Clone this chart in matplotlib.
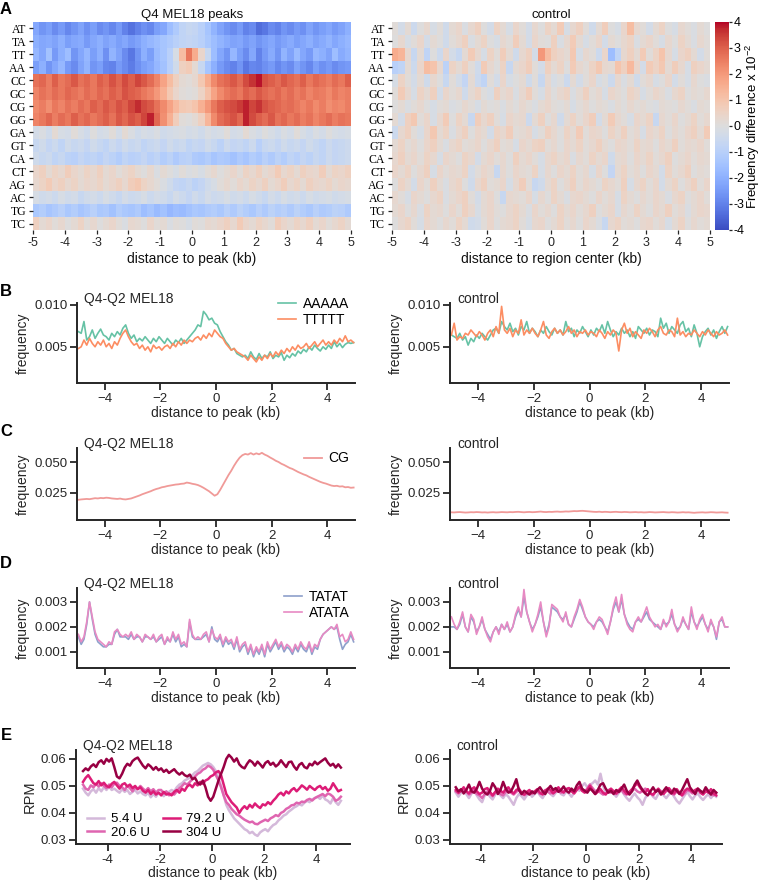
import numpy as np
import matplotlib
matplotlib.use("Agg")
import matplotlib.pyplot as plt

plt.rcParams['font.family'] = ['Liberation Sans', 'DejaVu Sans']
plt.rcParams['mathtext.fontset'] = 'custom'
plt.rcParams['mathtext.rm'] = 'Liberation Sans'
plt.rcParams['mathtext.it'] = 'Liberation Sans'

# ---------------- data ----------------
dinucs = ['AT', 'TA', 'TT', 'AA', 'CC', 'GC', 'CG', 'GG',
          'GA', 'GT', 'CA', 'CT', 'AG', 'AC', 'TG', 'TC']
heat_ticks = ['-5', '-4', '-3', '-2', '-1', '0', '1', '2', '3', '4', '5']
cbar_ticks = ['-4', '-3', '-2', '-1', '0', '1', '2', '3', '4']

# frequency difference x 1e-2, 50 bins of 200 bp, Q4 MEL18 peaks
heat_peaks = [
 [-2.2,-2.6,-2.4,-2.8,-2.5,-2.9,-2.6,-2.3,-2.7,-2.4,-2.8,-2.6,-2.9,-2.5,-3.0,-3.3,-3.0,-2.7,-2.9,-2.4,-2.2,-1.6,-1.2,-0.8,-0.6,-0.7,-1.0,-1.4,-1.9,-2.3,-2.6,-2.8,-2.5,-3.0,-2.8,-3.4,-3.2,-2.8,-3.0,-2.6,-2.8,-2.5,-2.7,-2.3,-2.6,-2.4,-2.2,-2.5,-2.3,-2.0],
 [-2.0,-2.2,-2.1,-2.3,-2.0,-2.4,-2.2,-2.1,-2.5,-2.2,-2.0,-2.3,-2.1,-2.4,-2.2,-2.5,-2.3,-2.0,-1.8,-1.6,-1.4,-1.2,-1.0,-0.8,-0.7,-0.8,-1.0,-1.3,-1.6,-1.9,-2.1,-2.3,-2.2,-2.5,-2.3,-2.6,-2.4,-2.2,-2.5,-2.3,-2.1,-2.4,-2.2,-2.0,-2.3,-2.1,-1.9,-2.2,-2.0,-1.8],
 [-1.8,-2.2,-1.5,-2.5,-2.0,-1.6,-2.6,-2.2,-1.8,-2.4,-2.0,-2.7,-1.9,-2.3,-2.8,-3.2,-2.6,-2.0,-2.4,-1.7,-1.4,-1.0,-0.2,1.2,2.6,1.6,0.4,-0.6,-1.6,-2.2,-2.6,-1.8,-2.4,-2.8,-2.2,-3.0,-2.5,-2.1,-2.6,-1.9,-2.3,-1.7,-2.2,-2.5,-1.8,-2.0,-2.3,-1.6,-2.1,-1.9],
 [-2.4,-2.0,-2.6,-2.2,-1.8,-2.5,-2.8,-2.3,-1.9,-2.6,-2.4,-2.9,-3.0,-2.5,-2.8,-3.1,-2.7,-2.4,-2.2,-1.8,-1.5,-1.0,-0.4,0.6,0.8,0.2,-0.6,-1.4,-2.0,-2.5,-2.8,-3.0,-2.6,-3.2,-2.9,-3.0,-2.7,-2.5,-2.9,-2.6,-2.8,-2.3,-2.6,-2.9,-2.4,-2.7,-2.5,-2.8,-2.6,-2.5],
 [2.7,2.9,2.5,3.0,2.6,2.8,3.1,2.7,2.9,2.6,3.0,2.8,3.2,2.9,3.3,3.0,3.4,3.1,2.8,2.4,1.8,1.2,0.6,0.2,0.1,0.3,0.9,1.6,2.3,2.7,2.9,3.1,2.8,3.3,3.6,3.9,3.2,3.0,2.8,3.1,2.9,2.7,3.0,2.6,2.9,2.7,2.5,2.8,2.6,3.0],
 [2.4,2.7,2.5,2.8,2.6,2.9,2.7,2.5,2.8,2.6,2.9,2.7,3.0,2.8,3.2,3.0,2.9,2.6,2.4,2.0,1.5,0.9,0.4,0.1,0.0,0.1,0.5,1.1,1.8,2.3,2.6,2.8,2.6,3.0,2.8,3.1,2.9,2.7,2.9,2.6,2.8,2.5,2.7,2.4,2.6,2.5,2.3,2.6,2.4,2.5],
 [2.3,2.5,2.2,2.6,2.4,2.7,2.5,2.8,2.6,3.0,2.8,3.1,2.9,3.2,3.0,3.4,3.7,3.3,3.1,2.7,2.3,1.8,1.3,0.9,0.8,1.0,1.5,2.0,2.6,3.0,3.2,3.3,3.5,3.8,3.4,3.6,3.2,3.0,2.9,2.7,2.8,2.6,2.4,2.6,2.3,2.5,2.2,2.4,2.3,2.5],
 [2.4,2.6,2.9,2.5,2.8,2.6,3.0,2.7,2.9,2.6,2.8,3.0,2.7,3.1,2.9,3.2,3.0,3.4,3.8,2.9,2.2,1.5,0.7,0.1,0.0,0.2,0.6,1.4,2.3,2.8,3.0,3.2,2.9,3.8,3.3,3.0,2.8,3.1,2.7,2.9,2.6,2.8,2.5,2.7,2.4,2.6,2.8,2.5,2.7,2.6],
 [-0.3,-0.1,-0.4,0.2,-0.2,-0.3,0.1,-0.2,-0.4,0.0,-0.3,-0.2,0.1,-0.3,0.2,-0.1,-0.4,-0.2,-0.3,-0.1,-0.4,-0.3,-0.2,-0.1,-0.3,-0.2,-0.4,-0.1,-0.3,-0.2,0.1,-0.3,-0.2,0.2,-0.1,-0.3,0.0,-0.2,-0.4,-0.1,-0.3,0.1,-0.2,-0.4,-0.1,-0.3,0.0,-0.2,-0.3,-0.2],
 [-0.6,-0.4,-0.7,-0.5,-0.8,-0.4,-0.6,-0.5,-0.7,-0.4,-0.6,-0.8,-0.5,-0.7,-0.4,-0.6,-0.5,-0.8,-0.6,-0.5,-0.7,-0.4,-0.6,-0.5,-0.8,-0.6,-0.7,-0.4,-0.6,-0.9,-0.5,-0.7,-0.6,-0.8,-0.5,-1.0,-0.6,-0.5,-0.7,-0.4,-0.6,-0.5,-0.7,-0.4,-0.6,-0.8,-0.5,-0.7,-0.6,-0.5],
 [-0.4,-0.6,-0.5,-0.8,-0.6,-0.9,-1.0,-0.7,-0.9,-0.8,-1.0,-0.7,-0.9,-1.1,-0.8,-1.0,-0.9,-0.7,-1.0,-0.8,-1.1,-0.9,-1.2,-1.0,-0.9,-1.2,-1.3,-1.1,-1.4,-1.2,-1.3,-1.5,-1.2,-1.4,-1.1,-1.3,-1.0,-1.2,-0.9,-1.1,-0.8,-1.0,-0.7,-0.9,-0.6,-0.8,-0.5,-0.7,-0.6,-0.5],
 [0.4,0.6,0.2,0.5,0.3,0.7,0.4,0.2,0.5,0.3,0.6,0.2,0.4,0.1,0.3,0.5,0.2,0.0,0.3,-0.1,0.2,0.0,-0.2,0.1,-0.1,0.0,-0.2,0.1,0.3,0.0,0.2,0.4,0.1,0.5,0.3,0.6,0.2,0.4,0.8,0.3,0.5,0.2,0.6,0.4,0.3,0.7,0.2,0.5,0.4,0.6],
 [0.3,0.5,0.8,0.4,0.6,0.3,0.5,0.2,0.4,0.3,0.5,0.2,0.4,0.6,0.3,0.7,0.9,0.5,0.3,0.1,-0.1,-0.4,-0.7,-0.8,-0.6,-0.9,-0.7,-0.4,-0.2,0.1,0.3,0.1,0.4,0.2,0.5,0.3,0.6,0.2,0.4,0.7,0.3,0.5,0.2,0.6,0.4,0.3,0.5,0.2,0.4,0.3],
 [-0.2,-0.4,-0.3,-0.5,-0.2,-0.4,-0.3,-0.6,-0.4,-0.3,-0.5,-0.2,-0.4,-0.6,-0.3,-0.5,-0.4,-0.2,-0.5,-0.3,-0.4,-0.6,-0.3,-0.5,-0.7,-0.4,-0.6,-0.3,-0.5,-0.4,-0.2,-0.4,-0.3,-0.5,-0.2,-0.4,-0.6,-0.3,-0.5,-0.2,-0.4,-0.3,-0.5,-0.2,-0.4,-0.3,-0.2,-0.4,-0.3,-0.2],
 [-1.3,-1.1,-1.4,-1.2,-1.0,-1.3,-1.1,-1.4,-1.2,-1.0,-1.3,-1.2,-1.5,-1.1,-1.3,-1.4,-1.2,-1.6,-1.4,-1.7,-1.5,-1.8,-1.6,-1.7,-1.5,-1.3,-1.4,-1.2,-1.1,-1.3,-1.0,-1.2,-0.9,-1.1,-1.3,-1.0,-1.2,-0.9,-1.1,-1.0,-1.2,-0.9,-1.1,-1.3,-1.0,-1.2,-1.1,-0.9,-1.0,-1.2],
 [0.6,0.2,0.4,0.1,0.3,0.0,0.2,0.5,0.1,0.3,0.0,0.2,0.4,0.1,-0.1,0.3,0.2,0.0,0.4,0.1,0.2,-0.1,0.1,0.0,-0.2,0.1,0.0,0.3,0.2,0.4,0.6,0.3,0.8,0.4,0.2,0.5,0.3,0.1,0.7,0.4,0.2,0.5,0.3,0.6,0.2,0.4,0.1,0.3,0.5,0.2],
]

# frequency difference x 1e-2, control regions
heat_control = [
 [0.1,-0.3,0.2,-0.5,0.0,0.3,-0.2,0.1,-0.4,0.2,0.4,-0.1,0.3,0.6,0.0,-0.3,0.5,0.2,-0.2,0.4,0.1,-0.3,0.3,0.0,0.5,0.2,0.8,-0.2,0.3,0.6,0.1,-0.4,0.2,0.7,0.0,-0.2,0.4,1.2,0.3,0.1,-0.3,0.2,0.5,0.0,-0.2,0.3,0.1,-0.1,0.2,0.0],
 [0.0,0.3,-0.2,0.1,0.4,-0.3,0.2,0.0,-0.4,0.1,0.3,0.6,-0.1,0.2,0.5,0.0,-0.2,0.3,0.1,0.7,0.2,-0.3,0.4,0.1,0.0,0.6,-0.1,0.3,0.8,0.2,-0.2,0.1,0.4,-0.3,0.2,0.0,0.3,0.5,-0.1,0.2,0.4,0.1,-0.2,0.3,0.0,0.5,0.2,-0.1,0.3,0.1],
 [1.6,1.4,0.3,-0.6,0.2,-0.8,0.0,-0.5,0.4,-0.3,-0.6,0.2,0.8,0.3,-0.2,0.5,0.1,0.7,0.2,-0.4,0.3,0.6,-0.3,2.0,1.2,0.6,0.4,0.2,0.9,-0.2,0.3,0.1,-0.5,0.4,-1.6,-0.8,0.3,0.6,0.2,0.8,0.1,0.5,1.0,0.3,-0.2,0.4,0.6,0.2,-0.3,0.1],
 [-1.0,-0.8,0.2,-0.5,0.4,1.2,1.0,0.3,-0.9,0.5,0.2,0.6,0.1,-0.4,0.8,0.3,0.0,0.5,-0.6,0.2,0.4,0.7,0.1,-0.3,0.6,0.2,0.5,0.0,0.8,0.3,0.1,0.5,0.9,0.3,0.2,1.0,0.6,1.3,0.4,-0.3,0.8,0.5,0.9,0.2,0.7,0.3,-0.2,0.6,0.4,0.2],
 [-0.2,0.5,0.1,-0.3,0.2,-0.4,0.3,0.0,-0.6,0.1,-0.3,-0.7,0.2,-0.5,-0.8,0.1,-0.3,0.4,-0.2,0.0,0.2,-0.4,0.1,-0.6,0.3,-0.2,0.0,-0.5,0.2,-0.3,0.1,0.4,-0.2,0.0,-0.5,0.3,-0.1,0.2,-0.4,0.1,0.3,-0.2,0.0,0.4,-0.3,0.1,-0.2,0.3,0.0,-0.1],
 [0.1,0.8,0.3,-0.2,0.5,0.2,0.6,-0.3,0.4,0.1,0.3,-0.4,0.2,0.5,0.0,-0.2,0.6,0.2,0.4,-0.1,0.3,0.7,0.1,-0.2,0.4,0.0,0.3,0.5,-0.1,0.2,0.6,0.1,0.3,-0.2,0.4,0.2,0.0,0.5,0.3,-0.2,0.1,0.4,0.2,-0.1,0.3,0.5,0.0,0.2,0.1,0.3],
 [0.0,0.2,-0.1,0.1,0.3,0.0,-0.2,0.1,0.2,-0.1,0.0,0.3,0.1,-0.2,0.2,0.0,0.1,-0.1,0.2,0.0,0.3,0.1,-0.1,0.2,0.4,0.1,0.0,0.2,-0.2,0.1,0.3,0.0,0.2,0.1,-0.1,0.2,0.0,0.3,0.1,0.2,0.0,-0.1,0.2,0.1,0.0,0.3,0.1,-0.1,0.2,0.1],
 [0.2,-0.3,0.6,0.9,0.1,0.4,-0.2,0.3,0.8,0.0,0.5,0.2,-0.6,0.7,0.3,0.6,0.1,-0.2,0.4,0.2,0.3,-0.5,0.2,0.6,0.0,0.3,-0.4,0.2,0.5,0.1,0.4,0.7,-0.3,0.2,0.8,0.3,0.1,-0.2,0.4,0.2,0.5,-0.6,0.3,0.1,0.4,0.0,0.2,0.5,0.1,0.3],
 [-0.5,0.3,0.6,0.1,-0.2,0.4,0.9,0.2,0.5,-0.1,0.3,0.6,0.0,0.4,0.2,-0.3,0.5,0.3,0.7,0.1,0.2,0.4,-0.2,0.1,0.6,0.3,0.0,0.5,0.2,0.8,0.1,0.4,0.3,0.0,0.5,0.2,0.6,0.1,0.3,-0.2,0.4,0.2,0.5,0.0,0.3,0.1,0.4,0.6,0.2,0.8],
 [0.2,0.5,0.1,0.3,0.0,0.4,0.6,0.2,-0.1,0.3,0.5,0.1,0.2,0.4,0.0,0.3,0.6,0.1,0.2,-0.2,0.4,0.2,0.5,0.6,0.1,0.3,0.0,0.4,0.2,0.5,0.1,0.3,0.6,0.2,0.0,0.4,0.3,0.1,0.5,0.2,0.3,0.0,0.4,0.2,0.6,0.1,0.3,0.2,0.4,0.1],
 [0.3,0.6,0.2,0.4,0.1,0.5,0.3,-0.2,0.4,0.2,0.0,0.5,0.3,-0.3,0.2,0.4,0.1,0.3,0.0,0.6,0.2,0.4,0.1,-0.2,0.3,0.5,0.2,0.4,-0.1,0.3,0.1,0.5,0.2,0.4,-0.4,0.2,0.3,0.0,0.4,0.2,0.5,0.1,0.3,0.6,0.0,0.2,0.4,0.1,0.3,0.2],
 [0.4,0.2,0.5,0.0,0.3,0.6,-0.2,0.4,0.1,0.3,0.2,0.5,-0.3,0.1,0.4,0.2,-0.6,0.3,0.0,0.4,0.2,0.1,0.5,-0.2,0.3,0.0,0.4,0.2,0.5,0.1,0.3,-0.2,0.4,0.0,-0.7,0.2,0.5,0.1,0.3,0.0,0.4,0.2,-0.3,0.5,0.1,0.3,0.6,0.0,0.2,0.1],
 [0.0,0.5,0.2,-0.3,0.4,0.1,0.6,0.2,-0.1,0.3,0.5,0.0,-0.4,0.3,0.6,0.1,0.2,0.4,-0.2,0.3,0.7,0.1,-0.6,-0.4,0.2,0.5,0.0,0.3,0.6,0.1,0.4,0.2,0.0,0.5,0.3,0.1,0.6,-0.2,0.3,0.5,0.1,0.4,-0.3,0.2,0.5,0.0,0.3,0.6,0.1,0.4],
 [0.3,0.1,-0.2,0.4,0.2,0.0,0.3,0.5,-0.1,0.2,0.4,0.6,0.1,-0.3,0.2,0.4,0.0,-0.6,0.3,0.2,0.1,0.4,-0.2,0.3,0.0,0.5,0.2,-0.1,0.3,0.4,0.2,0.0,0.4,0.1,0.3,-0.2,0.5,0.2,0.0,0.3,0.1,0.4,0.2,-0.1,0.3,0.5,0.0,0.2,0.4,0.1],
 [0.2,0.4,0.0,0.3,-0.1,0.5,0.2,0.3,0.0,0.4,0.1,0.6,0.3,-0.2,0.2,0.4,0.1,0.0,0.3,0.5,0.2,-0.1,0.4,0.1,0.3,0.0,0.5,0.2,0.4,0.1,0.3,0.6,0.0,0.2,0.4,-0.2,0.3,0.1,0.5,0.2,0.0,0.4,0.2,0.6,0.1,0.3,-0.1,0.2,0.4,0.3],
 [0.0,0.3,0.5,0.1,-0.2,0.4,0.2,0.0,0.3,0.1,0.5,0.2,-0.4,-0.3,0.1,0.4,0.0,0.2,0.3,0.5,0.1,-0.2,0.3,0.4,0.0,0.2,0.5,0.1,0.3,0.0,0.4,0.2,-0.1,-0.6,0.3,0.5,0.1,0.2,0.0,0.3,0.4,0.1,0.3,-0.2,0.2,0.5,0.0,0.3,0.1,0.2],
]

# line profiles, 100 bins (100 bp) from -4.95 to 4.95 kb
# B: frequency x 1e-4
aaaaa_peak = [68,66,80,58,62,70,60,66,71,64, 62,58,66,62,68,64,72,76,66,60, 64,56,60,57,62,58,54,60,56,62,
              58,54,60,56,52,58,55,60,54,58, 62,66,70,76,74,92,88,82,84,78, 76,68,62,56,52,46,48,42,40,38,
              40,36,44,38,35,42,36,40,38,44, 36,40,38,43,34,40,37,42,39,45, 42,47,44,50,46,52,48,45,50,47,
              52,48,56,50,54,49,53,55,54,55]
ttttt_peak = [48,50,58,52,60,54,50,56,52,58, 50,54,48,56,52,60,66,70,62,56, 52,54,48,52,46,50,44,52,48,50,
              46,50,52,48,54,50,56,52,58,54, 58,56,60,62,58,64,60,66,62,70, 66,62,60,54,50,46,48,44,42,40,
              38,34,40,36,32,38,34,40,36,42, 38,44,40,46,42,48,44,50,46,52, 48,50,54,48,52,56,50,54,58,52,
              56,52,58,54,60,56,63,56,58,55]
aaaaa_ctrl = [64,62,60,66,58,62,52,60,56,64, 60,66,62,58,64,70,72,66,80,74, 70,78,68,72,64,74,70,80,66,72,
              68,62,70,66,74,68,64,72,66,70, 64,80,68,72,62,70,66,74,68,62, 70,64,72,68,76,66,80,70,62,68,
              64,72,66,70,62,68,60,74,70,66, 72,64,70,68,62,84,72,78,66,74, 70,66,76,80,68,72,62,76,66,50,
              62,68,72,64,70,60,68,74,66,74]
ttttt_ctrl = [64,78,58,62,60,66,64,70,66,62, 68,64,58,66,70,62,74,66,98,70, 66,72,62,70,66,82,64,70,66,72,
              66,62,70,80,64,60,68,72,66,70, 64,68,74,66,70,62,68,66,70,64, 68,66,62,70,66,60,68,64,70,66,
              45,70,78,66,72,62,68,64,60,70, 66,72,68,62,70,74,66,64,70,68, 62,84,64,68,62,66,64,70,66,62,
              68,64,70,66,62,68,64,66,70,64]
# C: frequency x 1e-3
cg_peak = [19.5,19.8,20.0,20.2,20.0,20.4,20.8,20.6,21.0,20.8, 21.2,21.0,20.6,20.4,20.2,20.5,20.0,19.8,20.2,20.6,
           21.4,22.2,23.0,24.0,24.8,25.6,26.4,27.4,28.2,28.8, 29.6,30.0,30.6,31.0,31.4,31.8,32.0,32.4,32.6,33.4,
           33.0,32.4,32.0,31.4,30.4,29.2,27.8,26.4,24.6,22.8, 24.0,27.5,31.5,35.5,39.5,43.0,47.0,50.5,53.5,55.5,
           56.5,56.0,57.2,56.0,57.0,56.2,57.4,56.0,55.0,53.6, 52.4,51.0,50.0,48.6,47.6,46.4,45.2,44.4,43.2,42.0,
           41.0,40.0,39.2,38.0,37.0,36.0,35.0,34.0,33.2,32.6, 31.8,31.0,30.6,30.8,30.2,30.4,29.6,29.8,29.2,29.4]
cg_ctrl = [9.4,9.3,9.5,9.6,9.4,9.2,9.3,9.5,9.4,9.6, 9.5,9.3,9.4,9.2,9.4,9.5,9.3,9.4,9.6,9.5,
           9.4,9.6,9.5,9.7,9.8,9.6,9.4,9.6,9.7,9.5, 9.6,9.8,10.0,9.7,9.6,9.8,9.7,9.9,10.0,9.8,
           9.9,10.1,10.0,10.2,10.4,10.3,10.5,10.6,10.4,10.2, 10.0,9.8,9.7,9.9,9.6,9.8,9.7,9.5,9.7,9.8,
           9.6,9.5,9.7,9.6,9.4,9.5,9.6,9.4,9.5,9.3, 9.4,9.6,9.5,9.3,9.4,9.5,9.6,9.4,9.3,9.5,
           9.4,9.2,9.3,9.5,9.3,9.4,9.2,9.0,9.2,9.3, 9.4,9.2,9.3,9.5,9.4,9.2,9.3,9.4,9.2,9.1]
# D: frequency x 1e-4
tatat_peak = [16,13,15,21,30,23,17,14,13,12, 12,13,13,17,19,16,16,16,15,17, 15,16,16,14,16,16,15,16,14,15,
              16,13,15,14,17,14,16,12,13,12, 22,16,15,15,15,16,17,14,20,15, 14,16,12,15,13,14,11,15,10,12,
              13,9,12,8,11,9,12,8,13,10, 12,14,11,13,10,12,11,9,12,10, 13,11,10,13,9,12,11,15,17,18,
              19,20,19,20,15,11,13,14,17,14]
atata_peak = [17,14,16,22,30,24,18,15,14,13, 12,14,13,18,19,17,16,17,16,18, 15,17,16,14,17,16,15,17,14,16,
              17,13,16,14,18,15,17,13,14,12, 23,17,15,16,15,17,18,14,19,16, 15,17,13,16,14,15,12,16,11,13,
              14,10,13,9,12,10,13,9,14,11, 13,15,12,14,11,13,12,10,13,11, 14,12,11,14,10,13,12,15,17,18,
              19,20,19,21,16,17,14,15,18,15]
tatat_ctrl = [20,20,19,21,25,20,18,24,22,18, 20,23,19,17,15,18,20,18,21,19, 21,18,20,24,27,24,32,26,22,19,
              21,24,28,22,17,21,28,27,26,24, 23,25,21,20,23,26,30,27,24,22, 21,20,22,23,22,20,18,22,27,30,
              26,31,25,22,20,19,22,23,22,24, 26,23,22,21,20,19,22,21,22,25, 21,19,20,23,21,19,26,22,20,22,
              24,21,19,22,20,15,22,23,20,20]
atata_ctrl = [24,21,19,22,26,20,18,25,23,17, 20,24,19,16,14,18,20,17,21,19, 22,18,20,25,28,24,35,26,22,18,
              21,25,30,22,16,20,29,28,27,24, 22,26,21,20,24,27,31,28,24,22, 21,19,22,24,23,20,17,22,28,32,
              26,33,25,21,19,18,22,24,22,25, 28,24,22,20,21,19,23,20,22,27, 21,18,20,24,21,19,28,22,19,23,
              25,21,18,23,20,16,22,24,20,20]
# E: RPM x 1e-3
doses = ['5.4 U', '20.6 U', '79.2 U', '304 U']
rpm_peak_5 = [49.0,47.5,46.5,48.0,48.8,47.5,49.2,48.0,49.5,48.5, 49.8,48.5,49.0,48.2,47.5,48.8,47.8,48.5,47.0,47.8,
              48.5,47.2,48.0,47.0,46.5,47.5,45.8,47.0,46.0,47.5, 47.0,46.2,47.5,47.8,48.5,48.0,49.5,50.5,51.0,52.0,
              52.5,53.0,54.0,55.0,55.5,56.5,57.5,58.0,58.5,58.0, 57.0,55.5,53.0,50.0,46.5,43.0,41.0,39.5,38.0,37.0,
              36.0,35.0,34.0,33.5,32.5,33.0,32.0,31.5,32.8,33.5, 34.0,33.2,34.5,35.5,36.0,37.2,38.0,39.0,39.5,40.5,
              41.2,42.0,42.5,43.2,42.8,43.8,44.5,44.0,45.0,45.5, 46.0,45.2,46.5,45.0,44.5,43.5,45.5,44.0,43.0,44.5]
rpm_peak_20 = [50.5,49.0,48.5,50.2,49.5,50.8,49.8,51.0,50.0,49.2, 50.5,49.5,50.8,51.2,50.0,49.5,48.5,50.0,49.2,48.0,
               49.5,48.8,50.0,49.0,48.2,49.2,48.0,48.8,47.5,48.5, 48.5,47.2,48.0,46.5,47.2,46.8,48.0,49.2,50.0,51.0,
               50.5,51.5,52.5,53.5,54.5,55.0,56.0,56.5,57.5,57.0, 56.0,54.0,52.0,49.5,46.5,44.0,43.0,41.5,40.5,39.5,
               39.0,38.2,37.5,37.0,36.5,36.8,36.0,35.8,36.5,37.0, 37.5,37.0,38.0,38.5,39.2,38.8,40.0,40.5,41.5,42.0,
               42.8,43.0,43.8,43.5,44.2,44.0,44.8,45.2,44.6,45.5, 46.0,46.5,47.0,46.2,47.2,46.8,46.0,44.5,45.0,46.0]
rpm_peak_79 = [51.5,53.0,54.0,52.5,51.0,50.5,51.8,50.2,51.2,50.0, 49.5,50.8,51.5,50.2,49.0,50.5,51.0,49.8,50.5,49.2,
               50.0,48.8,49.5,48.2,47.5,48.5,47.0,48.0,46.8,47.5, 46.5,47.8,46.8,47.2,46.5,47.8,48.5,47.5,49.0,48.2,
               49.8,50.5,49.5,51.0,50.2,51.5,50.8,52.0,52.5,53.5, 54.0,55.0,55.5,54.0,50.5,47.0,45.5,44.0,43.0,42.0,
               40.0,41.5,42.5,41.5,43.0,42.0,43.5,42.5,41.8,43.2, 42.8,44.0,43.2,44.5,45.5,46.8,47.5,46.5,48.0,47.2,
               48.5,49.2,48.0,49.0,50.2,49.5,48.6,50.0,49.2,48.5, 49.5,50.0,48.8,49.6,48.2,49.0,51.0,49.5,48.0,48.5]
rpm_peak_304 = [55.5,56.5,55.8,57.2,58.0,57.0,58.8,59.5,58.2,60.0, 59.0,60.2,57.0,53.5,52.8,54.5,56.8,58.2,57.5,59.2,
                60.0,60.5,59.0,57.5,56.5,58.0,57.2,56.0,57.0,55.8, 56.5,55.2,56.0,54.8,55.5,56.2,55.0,54.2,55.0,54.0,
                53.5,54.2,52.5,53.0,51.2,50.5,52.0,49.5,46.0,44.5, 46.0,49.0,52.0,54.5,57.0,60.0,61.5,60.5,59.0,60.2,
                58.0,57.0,56.5,58.2,59.5,58.8,57.5,59.0,58.0,56.8, 58.5,59.2,57.8,58.6,57.2,58.0,59.5,58.2,57.0,58.8,
                59.0,57.2,56.0,57.8,58.5,57.0,56.5,58.2,57.6,59.0, 58.0,58.8,59.5,60.2,58.6,57.5,58.2,56.8,58.0,56.8]
rpm_ctrl_5 = [47.5,46.0,47.5,48.5,47.0,45.5,47.2,48.0,46.5,45.0, 44.0,46.5,47.5,46.0,45.0,46.8,48.0,46.5,45.5,47.0,
              46.0,44.5,43.0,45.5,47.0,46.2,45.0,46.5,47.5,46.0, 47.0,48.0,46.5,45.5,47.2,48.5,47.0,46.2,47.5,48.5,
              47.0,46.5,48.0,47.2,46.0,47.5,49.0,48.2,50.0,51.0, 49.5,50.5,51.0,52.0,50.5,54.5,50.0,47.5,48.5,48.8,
              47.2,46.0,47.5,48.5,46.8,45.5,44.5,46.0,47.2,45.8, 44.8,43.0,45.5,46.8,47.5,46.0,45.2,47.0,48.2,46.5,
              45.5,46.8,47.5,46.0,44.5,43.5,45.0,46.5,47.8,46.2, 45.0,46.5,47.2,45.8,44.8,46.0,47.0,45.5,46.8,46.0]
rpm_ctrl_20 = [48.0,47.2,48.5,47.8,48.2,46.8,47.5,48.5,47.0,46.5, 45.5,47.0,48.0,47.2,46.2,47.5,48.2,47.0,46.5,47.8,
               48.2,47.5,46.8,47.8,48.5,47.2,46.5,47.2,48.0,47.5, 47.8,48.2,47.0,47.5,48.5,47.8,47.2,48.0,48.8,48.2,
               47.5,48.0,48.8,49.2,48.5,47.8,48.8,49.5,48.5,48.0, 49.0,50.5,49.2,48.0,48.5,47.5,46.8,47.2,48.0,47.5,
               48.2,47.0,47.8,48.5,47.2,46.8,47.5,48.2,49.0,48.0, 47.5,48.2,49.0,48.5,47.2,46.5,47.8,48.5,47.8,47.2,
               48.0,48.5,47.2,46.8,48.0,47.5,46.5,47.2,48.5,48.0, 47.2,48.0,48.8,47.5,47.0,47.8,48.2,47.0,46.5,47.5]
rpm_ctrl_79 = [48.5,47.5,48.2,49.5,48.0,47.2,48.8,49.5,48.0,47.0, 47.5,48.8,49.2,47.8,46.5,47.8,49.0,48.2,47.5,48.8,
               49.5,48.0,47.2,48.5,49.0,47.5,46.8,47.8,48.5,47.2, 48.0,48.8,47.5,46.8,48.2,49.0,48.5,47.2,48.0,49.5,
               48.2,47.5,48.8,49.2,48.0,47.2,48.5,49.8,48.2,47.5, 48.5,50.0,48.2,47.0,47.8,48.8,47.5,46.8,48.2,49.0,
               48.0,47.2,48.5,49.5,48.2,47.0,47.8,48.8,50.0,51.0, 49.5,48.2,47.5,48.8,47.2,46.8,48.0,49.0,47.8,47.0,
               48.5,49.2,48.0,47.2,48.8,47.5,46.5,48.2,49.0,48.5, 47.8,48.5,49.0,47.5,46.8,48.2,47.5,48.8,47.2,46.5]
rpm_ctrl_304 = [49.5,48.0,48.8,47.2,48.5,50.5,48.0,47.5,49.0,51.5, 49.0,47.5,46.8,48.2,51.0,49.5,47.0,48.5,51.5,49.0,
                47.5,48.0,50.0,52.5,48.5,47.0,48.2,47.5,46.8,48.0, 47.2,48.5,49.5,48.0,47.0,48.8,50.0,48.5,49.2,47.8,
                48.5,49.8,48.2,47.5,49.0,48.0,50.2,51.5,49.0,48.2, 47.5,49.0,48.2,47.0,48.5,50.5,51.0,49.0,47.5,48.2,
                47.0,48.5,47.8,49.0,50.5,48.2,46.8,48.0,50.5,52.0, 50.0,48.5,47.2,46.5,48.0,49.5,47.8,48.5,46.8,48.2,
                49.5,48.0,47.2,49.0,48.2,47.0,48.5,50.5,52.5,49.5, 48.2,47.0,49.0,48.2,47.5,49.5,48.0,46.8,48.5,47.5]

# ---------------- layout helpers ----------------
W, H = 764, 884
fig = plt.figure(figsize=(W / 100, H / 100), dpi=100)

def box(l, t, r, b):
    return [l / W, 1 - b / H, (r - l) / W, (b - t) / H]

dark = '#262626'
dist = np.round(np.arange(-4.95, 5.0, 0.1), 2)
edges = np.linspace(-5, 5, len(heat_peaks[0]) + 1)
rows = np.arange(len(dinucs) + 1)

# ---------------- A: heatmaps ----------------
def heat(ax, data, title, xlabel):
    m = ax.pcolormesh(edges, rows, np.array(data), cmap='coolwarm', vmin=-4, vmax=4,
                      shading='flat', edgecolors='none', rasterized=True)
    ax.set_ylim(len(dinucs), 0)
    ax.set_xlim(-5, 5)
    for s in ax.spines.values():
        s.set_visible(False)
    ax.set_xticks(np.arange(-5, 6, 1))
    ax.set_xticklabels(heat_ticks, fontsize=9, color=dark)
    ax.set_yticks(np.arange(len(dinucs)) + 0.5)
    ax.set_yticklabels(dinucs, fontsize=8.5, family=['Liberation Serif', 'DejaVu Serif'])
    ax.tick_params(axis='both', length=3, width=0.9, color=dark, pad=2)
    ax.set_title(title, fontsize=9.5, pad=3, color='#111111')
    ax.set_xlabel(xlabel, fontsize=10, labelpad=2, color='#111111')
    return m

axA1 = fig.add_axes(box(33, 22, 351, 230))
m = heat(axA1, heat_peaks, 'Q4 MEL18 peaks', 'distance to peak (kb)')

axA2 = fig.add_axes(box(392, 22, 710, 230))
heat(axA2, heat_control, 'control', 'distance to region center (kb)')

cax = fig.add_axes(box(715, 22, 729, 230))
cb = fig.colorbar(m, cax=cax)
cb.outline.set_visible(False)
cb.set_ticks(np.arange(-4, 5, 1))
cb.set_ticklabels(cbar_ticks)
cax.tick_params(labelsize=9, length=2.5, width=0.9, color=dark, pad=1)
cb.set_label('Frequency difference x 10$^{-2}$', fontsize=9.5)
cax.yaxis.set_label_coords((744 - 715) / 14, 0.5)

# ---------------- line panel helper ----------------
def style(ax, xlim):
    for s in ['top', 'right']:
        ax.spines[s].set_visible(False)
    for s in ['left', 'bottom']:
        ax.spines[s].set_linewidth(1.4)
        ax.spines[s].set_color(dark)
    ax.tick_params(axis='both', length=5, width=1.3, color=dark, labelsize=9.5,
                   labelcolor=dark, pad=2)
    ax.set_xlim(*xlim)

def tag(ax, text):
    ax.annotate(text, xy=(0.025, 1.0), xycoords='axes fraction', xytext=(0, 3),
                textcoords='offset points', va='center', ha='left', fontsize=10, color=dark)

def xlab(ax, lp=1):
    ax.set_xlabel('distance to peak (kb)', fontsize=10, color=dark, labelpad=lp)

# ---------------- B ----------------
c_a, c_t = '#66c2a5', '#fc8d62'
for (l, r), yA, yT, name in [((77, 355), aaaaa_peak, ttttt_peak, 'Q4-Q2 MEL18'),
                              ((450, 729), aaaaa_ctrl, ttttt_ctrl, 'control')]:
    ax = fig.add_axes(box(l, 303, r, 383))
    ax.plot(dist, np.array(yA) * 1e-4, color=c_a, lw=1.2, label='AAAAA')
    ax.plot(dist, np.array(yT) * 1e-4, color=c_t, lw=1.2, label='TTTTT')
    style(ax, (-5, 5))
    ax.set_ylim(0.0007, 0.0102)
    ax.set_yticks([0.005, 0.010])
    ax.set_yticklabels(['0.005', '0.010'])
    ax.set_xticks([-4, -2, 0, 2, 4])
    ax.set_ylabel('frequency', fontsize=10, color=dark, labelpad=3)
    xlab(ax)
    tag(ax, name)
    if name != 'control':
        ax.legend(loc='upper right', bbox_to_anchor=(1.0, 1.15), frameon=False, fontsize=10,
                  handlelength=1.3, handletextpad=0.5, labelspacing=0.15, borderaxespad=0)

# ---------------- C ----------------
c_cg = '#f09a98'
for (l, r), y, name in [((77, 355), cg_peak, 'Q4-Q2 MEL18'), ((450, 729), cg_ctrl, 'control')]:
    ax = fig.add_axes(box(l, 448, r, 520))
    ax.plot(dist, np.array(y) * 1e-3, color=c_cg, lw=1.3, label='CG')
    style(ax, (-5, 5))
    ax.set_ylim(0.0032, 0.0613)
    ax.set_yticks([0.025, 0.050])
    ax.set_yticklabels(['0.025', '0.050'])
    ax.set_xticks([-4, -2, 0, 2, 4])
    ax.set_ylabel('frequency', fontsize=10, color=dark, labelpad=3)
    xlab(ax)
    tag(ax, name)
    if name != 'control':
        ax.legend(loc='upper right', bbox_to_anchor=(1.0, 1.03), frameon=False, fontsize=10,
                  handlelength=1.3, handletextpad=0.5, borderaxespad=0)

# ---------------- D ----------------
c_ta, c_at = '#8da0cb', '#e78ac3'
for (l, r), y1, y2, name in [((77, 355), tatat_peak, atata_peak, 'Q4-Q2 MEL18'),
                              ((450, 729), tatat_ctrl, atata_ctrl, 'control')]:
    ax = fig.add_axes(box(l, 588, r, 668))
    ax.plot(dist, np.array(y1) * 1e-4, color=c_ta, lw=1.2, label='TATAT')
    ax.plot(dist, np.array(y2) * 1e-4, color=c_at, lw=1.2, label='ATATA')
    style(ax, (-5, 5))
    ax.set_ylim(0.00035, 0.00356)
    ax.set_yticks([0.001, 0.002, 0.003])
    ax.set_yticklabels(['0.001', '0.002', '0.003'])
    ax.set_xticks([-4, -2, 0, 2, 4])
    ax.set_ylabel('frequency', fontsize=10, color=dark, labelpad=3)
    xlab(ax)
    tag(ax, name)
    if name != 'control':
        ax.legend(loc='upper right', bbox_to_anchor=(1.0, 1.04), frameon=False, fontsize=10,
                  handlelength=1.3, handletextpad=0.5, labelspacing=0.1, borderaxespad=0)

# ---------------- E ----------------
dose_colors = ['#d4b9da', '#df65b0', '#dd1c77', '#980043']
e_ticks = [-4, -2, 0, 2, 4]
e_ticklabels = ['-4', '-2', '0', '2', '4']
for (l, r), series, name, xl in [((76, 350), [rpm_peak_5, rpm_peak_20, rpm_peak_79, rpm_peak_304],
                                  'Q4-Q2 MEL18', (-5.22, 5.3)),
                                 ((450, 722), [rpm_ctrl_5, rpm_ctrl_20, rpm_ctrl_79, rpm_ctrl_304],
                                  'control', (-5.17, 5.17))]:
    ax = fig.add_axes(box(l, 750, r, 844))
    for y, c, lab in zip(series, dose_colors, doses):
        ax.plot(dist, np.array(y) * 1e-3, color=c, lw=1.8, label=lab)
    style(ax, xl)
    ax.set_ylim(0.0285, 0.0633)
    ax.set_yticks([0.03, 0.04, 0.05, 0.06])
    ax.set_yticklabels(['0.03', '0.04', '0.05', '0.06'])
    ax.set_xticks(e_ticks)
    ax.set_xticklabels(e_ticklabels)
    ax.set_ylabel('RPM', fontsize=10.5, color=dark, labelpad=3)
    xlab(ax, 0)
    tag(ax, name)
    if name != 'control':
        ax.legend(loc='lower left', bbox_to_anchor=(0.02, 0.0), ncol=2, frameon=False, fontsize=9.5,
                  handlelength=1.3, handletextpad=0.5, labelspacing=0.1, columnspacing=1.0,
                  borderaxespad=0.0)

# ---------------- panel letters ----------------
for letter, y in [('A', 10), ('B', 291), ('C', 431), ('D', 563), ('E', 735)]:
    fig.text(6 / W, 1 - y / H, letter, fontsize=12, fontweight='bold', ha='center', va='center')

fig.savefig('out.png', dpi=100)
